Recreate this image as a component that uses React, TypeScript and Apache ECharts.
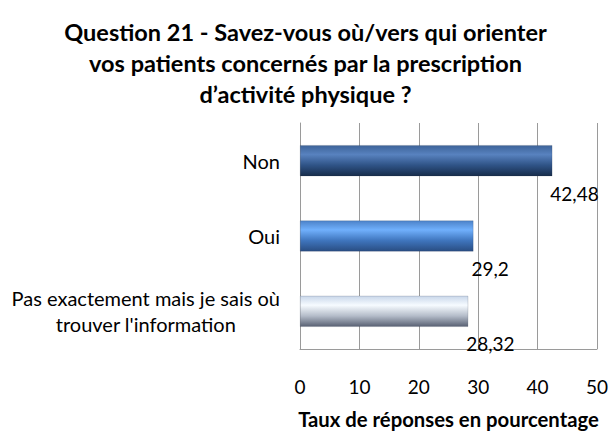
import React, { useEffect, useRef } from "react";
import * as echarts from "echarts";

const titleLines = [
  "Question 21 - Savez-vous où/vers qui orienter",
  "vos patients concernés par la prescription",
  "d’activité physique ?",
];
const categories = [
  "Non",
  "Oui",
  "Pas exactement mais je sais où\ntrouver l'information",
];
const values = [42.48, 29.2, 28.32];
const valueLabels = ["42,48", "29,2", "28,32"];
const xAxisName = "Taux de réponses en pourcentage";

const FONT = "Lato, 'Open Sans', sans-serif";
const Y_FONT_SIZE = 20;
const Y_LABEL_MARGIN = 20;
const Y_LINE_HEIGHT = 26;

const gradients = [
  [
    [0, "#3d6399"],
    [0.3, "#5882bf"],
    [0.65, "#2f5386"],
    [1, "#172c4b"],
  ],
  [
    [0, "#4c82c9"],
    [0.3, "#70b0fc"],
    [0.65, "#3f75bd"],
    [1, "#294d82"],
  ],
  [
    [0, "#c9d7ea"],
    [0.3, "#f6fbff"],
    [0.65, "#b4bcc9"],
    [1, "#586072"],
  ],
];

export default function App() {
  const ref = useRef<HTMLDivElement>(null);
  useEffect(() => {
    document.body.style.margin = "0";
    const chart = echarts.init(ref.current!, null, { renderer: "svg" });
    chart.setOption({
      animation: false,
      backgroundColor: "#ffffff",
      title: {
        text: titleLines.join("\n"),
        left: "center",
        top: 11,
        textStyle: {
          fontFamily: FONT,
          fontWeight: "bold",
          fontSize: 23.5,
          lineHeight: 31,
          color: "#000000",
        },
      },
      grid: { left: 300, right: 14, top: 123, bottom: 81 },
      xAxis: {
        type: "value",
        min: 0,
        max: 50,
        interval: 10,
        axisLine: { show: true, lineStyle: { color: "#9a9a9a" } },
        axisTick: { show: false },
        splitLine: { show: true, lineStyle: { color: "#9a9a9a" } },
        axisLabel: {
          fontFamily: FONT,
          fontSize: 19,
          color: "#000000",
          margin: 28,
        },
        name: xAxisName,
        nameLocation: "middle",
        nameGap: 60,
        nameTextStyle: {
          fontFamily: FONT,
          fontWeight: "bold",
          fontSize: 20.3,
          color: "#000000",
        },
      },
      yAxis: {
        type: "category",
        inverse: true,
        data: categories,
        axisLine: { show: true, lineStyle: { color: "#9a9a9a" } },
        axisTick: { show: false },
        axisLabel: { show: false },
      },
      series: [
        {
          type: "bar",
          barWidth: 31,
          data: values.map((v, i) => ({
            value: v,
            itemStyle: {
              color: new echarts.graphic.LinearGradient(
                0,
                0,
                0,
                1,
                gradients[i].map(([o, c]) => ({ offset: o as number, color: c as string }))
              ),
              borderColor: "rgba(40,50,70,0.35)",
              borderWidth: 0.5,
            },
          })),
          label: {
            show: true,
            position: ["100%", "100%"],
            offset: [-2, 17],
            align: "left",
            verticalAlign: "middle",
            fontFamily: FONT,
            fontSize: 19,
            color: "#000000",
            formatter: (p: any) => valueLabels[p.dataIndex],
          },
        },
      ],
    });

    // Category labels: one text element per line, anchored through the chart's own axes.
    const axisX = chart.convertToPixel({ xAxisIndex: 0 }, 0) as number;
    const anchorX = axisX - Y_LABEL_MARGIN;
    const measureCtx = document.createElement("canvas").getContext("2d")!;
    measureCtx.font = `${Y_FONT_SIZE}px ${FONT}`;
    const texts: any[] = [];
    categories.forEach((cat, idx) => {
      const cy = chart.convertToPixel({ yAxisIndex: 0 }, idx) as number;
      const lines = cat.split("\n");
      const maxW = Math.max(...lines.map((l) => measureCtx.measureText(l).width));
      lines.forEach((l, j) => {
        const multi = lines.length > 1;
        texts.push({
          type: "text",
          x: multi ? anchorX - maxW / 2 : anchorX,
          y: cy + (j - (lines.length - 1) / 2) * Y_LINE_HEIGHT,
          silent: true,
          style: {
            text: l,
            font: `${Y_FONT_SIZE}px ${FONT}`,
            fill: "#000000",
            align: multi ? "center" : "right",
            verticalAlign: "middle",
            textAlign: multi ? "center" : "right",
            textVerticalAlign: "middle",
          },
        });
      });
    });
    chart.setOption({ graphic: { elements: texts } });
    return () => chart.dispose();
  }, []);
  return <div ref={ref} style={{ width: 611, height: 434 }} />;
}
